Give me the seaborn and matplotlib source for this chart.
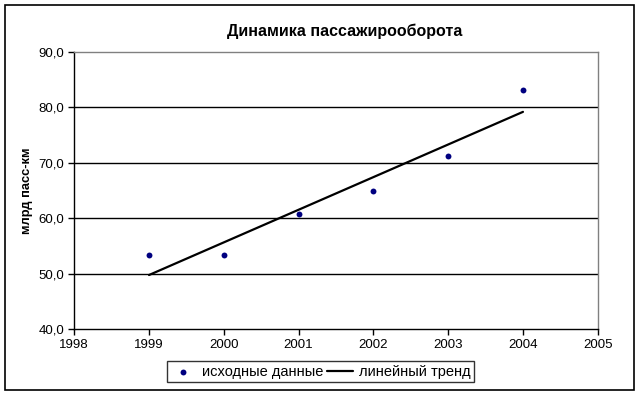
import numpy as np
import pandas as pd
import matplotlib
matplotlib.use("Agg")
import matplotlib.pyplot as plt
import seaborn as sns
from matplotlib.patches import Rectangle

# data
years = [1999, 2000, 2001, 2002, 2003, 2004]
values = [53.4, 53.4, 60.8, 64.9, 71.2, 83.1]
x_ticks = [1998, 1999, 2000, 2001, 2002, 2003, 2004, 2005]
y_ticks = [40, 50, 60, 70, 80, 90]

df = pd.DataFrame({"year": years, "value": values})

# linear trend fitted on the data
slope, intercept = np.polyfit(df["year"], df["value"], 1)
df["trend"] = slope * df["year"] + intercept

sns.set_theme(style="white")
plt.rcParams["font.family"] = ["Liberation Sans", "DejaVu Sans"]
plt.rcParams["text.color"] = "black"
plt.rcParams["axes.labelcolor"] = "black"
plt.rcParams["xtick.color"] = "black"
plt.rcParams["ytick.color"] = "black"

fig = plt.figure(figsize=(6.4, 3.96), dpi=100)
ax = fig.add_axes([0.116, 0.169, 0.818, 0.70])

sns.scatterplot(data=df, x="year", y="value", ax=ax, color="#000080",
                s=18, edgecolor="#000080", linewidth=0, label="исходные данные", zorder=3)
sns.lineplot(data=df, x="year", y="trend", ax=ax, color="black",
             linewidth=1.6, label="линейный тренд", zorder=2)

ax.set_xlim(1998, 2005)
ax.set_ylim(40, 90)
ax.set_xticks(x_ticks)
ax.set_xticklabels([str(t) for t in x_ticks], fontsize=9.5)
ax.set_yticks(y_ticks)
ax.set_yticklabels([f"{t:.1f}".replace(".", ",") for t in y_ticks], fontsize=9.5)

for t in y_ticks[1:-1]:
    ax.axhline(t, color="black", linewidth=1.0, zorder=1)

for side in ["top", "right"]:
    ax.spines[side].set_color("#808080")
    ax.spines[side].set_linewidth(1.0)
for side in ["left", "bottom"]:
    ax.spines[side].set_color("black")
    ax.spines[side].set_linewidth(1.0)

ax.tick_params(axis="both", direction="out", length=4, width=1, color="black",
               bottom=True, left=True, pad=3)

ax.set_xlabel("")
ax.set_ylabel("млрд пасс-км", fontsize=9.3, fontweight="bold", labelpad=4)
fig.text(345 / 640, 1 - 31 / 396, "Динамика пассажирооборота", fontsize=11.5,
         fontweight="bold", ha="center", va="center")

leg = ax.legend(loc="upper center", bbox_to_anchor=(0.47, -0.105), ncol=2,
                frameon=True, fancybox=False, fontsize=10.5, handlelength=1.8,
                columnspacing=0.2, handletextpad=0.4, borderpad=0.25,
                borderaxespad=0.2)
leg.get_frame().set_edgecolor("black")
leg.get_frame().set_linewidth(1.0)

# outer chart border
fig.patches.append(Rectangle((0.008, 0.015), 0.982, 0.972, transform=fig.transFigure,
                             fill=False, edgecolor="black", linewidth=1.2))

fig.savefig("out.png", dpi=100)
